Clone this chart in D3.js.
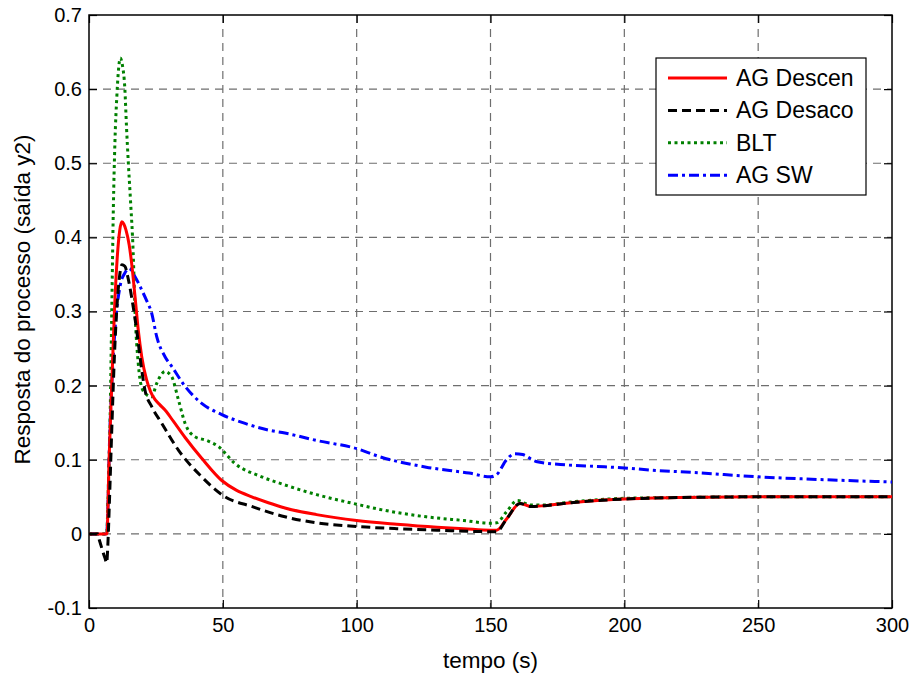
<!DOCTYPE html>
<html>
<head>
<meta charset="utf-8">
<script src="https://cdn.jsdelivr.net/npm/d3@7"></script>
<style>
  html, body { margin: 0; padding: 0; background: #fff; }
  svg { display: block; font-family: "Liberation Sans", Arial, sans-serif; }
</style>
</head>
<body>
<svg id="chart" width="911" height="675"></svg>
<script>
// Axis ticks
const xTicks = [0, 50, 100, 150, 200, 250, 300];
const yTicks = [-0.1, 0, 0.1, 0.2, 0.3, 0.4, 0.5, 0.6, 0.7];
const yTickLabels = ["-0.1", "0", "0.1", "0.2", "0.3", "0.4", "0.5", "0.6", "0.7"];

// Series: time (s) and response of output y2
const tDescen = [0, 6.7, 7.5, 8.5, 9.5, 10.5, 11.5, 12.3, 13, 13.8, 15, 15.9, 17.2, 18.4, 19.7, 21.5, 23, 24.7, 26.5, 28.4, 31.5, 35.9, 42.1, 49.6, 55, 60.8, 67, 73.2, 85, 100, 115, 130, 140, 150, 152.3, 156, 161, 165, 170, 180, 190, 200, 220, 250, 300];
const yDescen = [0, 0, 0.1, 0.2, 0.3, 0.37, 0.41, 0.421, 0.418, 0.41, 0.39, 0.366, 0.32, 0.275, 0.239, 0.208, 0.192, 0.181, 0.174, 0.167, 0.152, 0.13, 0.102, 0.072, 0.059, 0.05, 0.042, 0.035, 0.026, 0.018, 0.013, 0.009, 0.007, 0.005, 0.005, 0.02, 0.041, 0.037, 0.038, 0.042, 0.045, 0.047, 0.049, 0.05, 0.05];

const tDesaco = [0, 3.1, 4, 5, 6, 6.6, 7.1, 7.6, 8.5, 9.5, 10.5, 11.5, 12.3, 13.4, 14.6, 15.9, 17.8, 19.7, 20.9, 23.4, 27.2, 33.4, 42.1, 50.8, 60.8, 73.2, 85, 100, 115, 130, 150, 152.3, 156, 161, 165, 170, 180, 190, 200, 220, 250, 300];
const yDesaco = [0, 0, -0.01, -0.022, -0.033, -0.039, -0.01, 0.04, 0.14, 0.24, 0.31, 0.35, 0.363, 0.361, 0.345, 0.32, 0.275, 0.221, 0.194, 0.172, 0.149, 0.113, 0.077, 0.05, 0.037, 0.023, 0.015, 0.01, 0.007, 0.005, 0.003, 0.003, 0.02, 0.041, 0.037, 0.038, 0.042, 0.045, 0.047, 0.049, 0.05, 0.05];

const tBLT = [0, 6.6, 7.2, 7.8, 8.5, 9.1, 9.7, 10.4, 11, 11.7, 12.5, 13.4, 14, 14.7, 15.5, 16.5, 17.2, 18.4, 19.5, 20.9, 23.4, 25.3, 27, 28.4, 30.9, 33.4, 35.9, 39.6, 44, 48.3, 54.5, 64.5, 73.2, 85, 100, 108.7, 126, 140, 150, 152.3, 156, 160, 165, 170, 180, 190, 200, 220, 250, 300];
const yBLT = [0, 0, 0.06, 0.14, 0.3, 0.44, 0.53, 0.59, 0.625, 0.642, 0.632, 0.6, 0.55, 0.5, 0.45, 0.38, 0.3, 0.23, 0.2, 0.19, 0.185, 0.203, 0.215, 0.219, 0.212, 0.181, 0.149, 0.131, 0.126, 0.118, 0.095, 0.077, 0.066, 0.053, 0.04, 0.033, 0.023, 0.018, 0.0144, 0.015, 0.03, 0.045, 0.039, 0.039, 0.043, 0.046, 0.048, 0.049, 0.05, 0.05];

const tSW = [0, 6.6, 7.8, 9.7, 11.6, 13.4, 15, 17.2, 19.7, 21.5, 23.4, 25.3, 28.4, 30.9, 35.9, 42.1, 49.6, 58.3, 67, 73.2, 85, 100, 108.7, 126, 142, 150, 152.3, 156, 159, 162, 167, 178.4, 189.6, 200, 210, 225, 250, 275, 300];
const ySW = [0, 0, 0.14, 0.275, 0.334, 0.352, 0.358, 0.347, 0.329, 0.315, 0.298, 0.266, 0.239, 0.226, 0.199, 0.176, 0.161, 0.149, 0.14, 0.136, 0.126, 0.115, 0.104, 0.09, 0.082, 0.077, 0.08, 0.1, 0.108, 0.107, 0.0976, 0.093, 0.091, 0.089, 0.086, 0.083, 0.077, 0.073, 0.07];

const seriesNames = ["AG Descen", "AG Desaco", "BLT", "AG SW"];
const seriesColors = ["#ff0000", "#000000", "#008000", "#0000ff"];
const seriesDashes = [null, "9,5", "3,3.5", "10,4,3,4"];

const series = [
  { t: tDescen, y: yDescen },
  { t: tDesaco, y: yDesaco },
  { t: tBLT, y: yBLT },
  { t: tSW, y: ySW }
];

const svg = d3.select("#chart");
const margin = { left: 89, right: 19, top: 15, bottom: 67 };
const W = 911, H = 675;
const iw = W - margin.left - margin.right;
const ih = H - margin.top - margin.bottom;

const x = d3.scaleLinear().domain([0, 300]).range([margin.left, margin.left + iw]);
const y = d3.scaleLinear().domain([-0.1, 0.7]).range([margin.top + ih, margin.top]);

// Grid lines
const grid = svg.append("g").attr("stroke", "#6e6e6e").attr("stroke-width", 1.2).attr("stroke-dasharray", "8,6");
xTicks.slice(1, -1).forEach(v => {
  grid.append("line").attr("x1", x(v)).attr("x2", x(v)).attr("y1", y(0.7)).attr("y2", y(-0.1));
});
yTicks.slice(1, -1).forEach(v => {
  grid.append("line").attr("x1", x(0)).attr("x2", x(300)).attr("y1", y(v)).attr("y2", y(v));
});

// Axes with inward ticks on all four sides
const tickLen = 8;
const xAxisB = d3.axisBottom(x).tickValues(xTicks).tickSize(-tickLen).tickPadding(10).tickFormat(d3.format("d"));
const xAxisT = d3.axisTop(x).tickValues(xTicks).tickSize(-tickLen).tickFormat("");
const yAxisL = d3.axisLeft(y).tickValues(yTicks).tickSize(-tickLen).tickPadding(7)
  .tickFormat((d, i) => yTickLabels[i]);
const yAxisR = d3.axisRight(y).tickValues(yTicks).tickSize(-tickLen).tickFormat("");

function styleAxis(g) {
  g.select(".domain").remove();
  g.selectAll(".tick line").attr("stroke", "#000").attr("stroke-width", 1.2);
  g.selectAll(".tick text").attr("fill", "#000").style("font-size", "20px")
    .style("font-family", "'Liberation Sans', Arial, sans-serif");
}

svg.append("g").attr("transform", `translate(0,${y(-0.1)})`).call(xAxisB).call(styleAxis);
svg.append("g").attr("transform", `translate(0,${y(0.7)})`).call(xAxisT).call(styleAxis);
svg.append("g").attr("transform", `translate(${x(0)},0)`).call(yAxisL).call(styleAxis);
svg.append("g").attr("transform", `translate(${x(300)},0)`).call(yAxisR).call(styleAxis);

// Plot frame
svg.append("rect")
  .attr("x", x(0)).attr("y", y(0.7))
  .attr("width", x(300) - x(0)).attr("height", y(-0.1) - y(0.7))
  .attr("fill", "none").attr("stroke", "#000").attr("stroke-width", 1.5);

// Curves
svg.append("clipPath").attr("id", "plotclip").append("rect")
  .attr("x", x(0)).attr("y", y(0.7)).attr("width", x(300) - x(0)).attr("height", y(-0.1) - y(0.7));

const line = d3.line().x(d => x(d[0])).y(d => y(d[1])).curve(d3.curveMonotoneX);
const curves = svg.append("g").attr("clip-path", "url(#plotclip)");
[3, 2, 0, 1].forEach(i => {
  const s = series[i];
  const pts = s.t.map((tv, k) => [tv, s.y[k]]);
  const p = curves.append("path").datum(pts)
    .attr("d", line)
    .attr("fill", "none")
    .attr("stroke", seriesColors[i])
    .attr("stroke-width", 3)
    .attr("stroke-linejoin", "round");
  if (seriesDashes[i]) p.attr("stroke-dasharray", seriesDashes[i]);
});

// Legend
const lg = svg.append("g");
lg.append("rect").attr("x", 656).attr("y", 58).attr("width", 210).attr("height", 137)
  .attr("fill", "#fff").attr("stroke", "#000").attr("stroke-width", 1.2);
seriesNames.forEach((name, i) => {
  const yy = 78 + i * 32.4;
  const l = lg.append("line").attr("x1", 668).attr("x2", 727).attr("y1", yy).attr("y2", yy)
    .attr("stroke", seriesColors[i]).attr("stroke-width", 3);
  if (seriesDashes[i]) l.attr("stroke-dasharray", seriesDashes[i]);
  lg.append("text").attr("x", 736).attr("y", yy).attr("dy", "0.35em")
    .style("font-size", "23px").attr("fill", "#000").text(name);
});

// Axis labels
svg.append("text").attr("x", (x(0) + x(300)) / 2).attr("y", 668)
  .attr("text-anchor", "middle").style("font-size", "22.5px").text("tempo (s)");
svg.append("text").attr("transform", `translate(30,${(y(0.7) + y(-0.1)) / 2 - 12}) rotate(-90)`)
  .attr("text-anchor", "middle").style("font-size", "22.5px").text("Resposta do processo (saída y2)");
</script>
</body>
</html>
